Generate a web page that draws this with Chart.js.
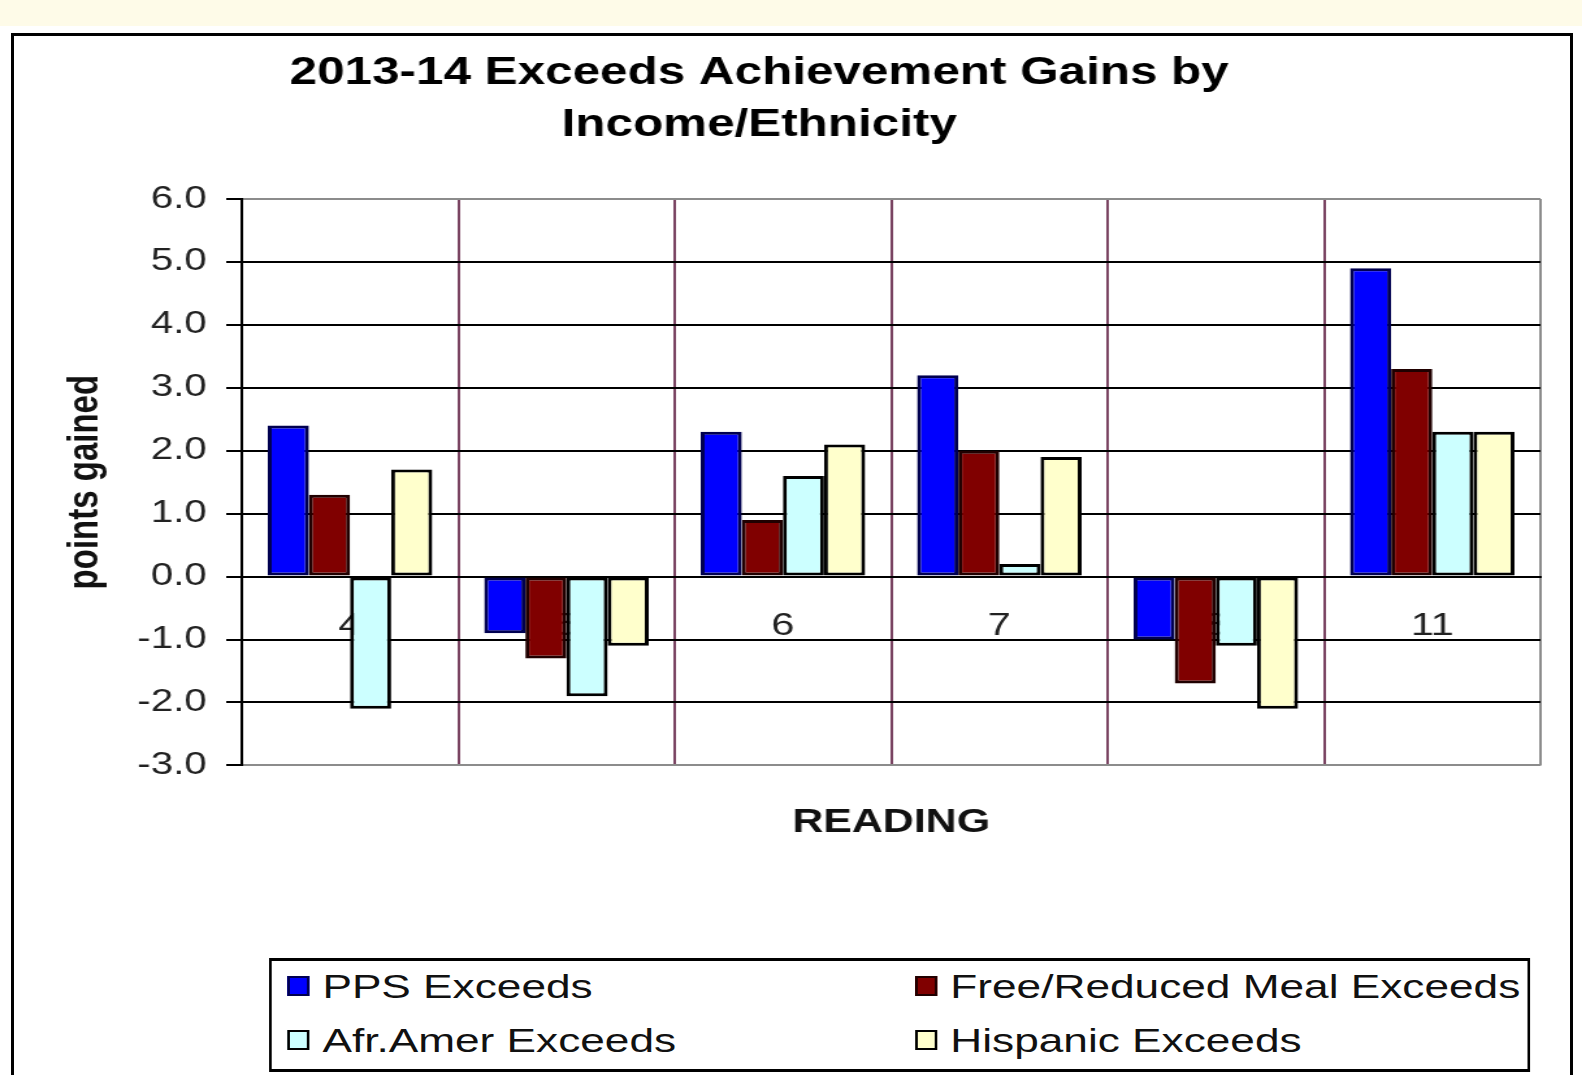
<!DOCTYPE html>
<html>
<head>
<meta charset="utf-8">
<title>2013-14 Exceeds Achievement Gains by Income/Ethnicity</title>
<script src="https://cdn.jsdelivr.net/npm/chart.js@4.4.1/dist/chart.umd.min.js"></script>
<style>
  html, body { margin: 0; padding: 0; background: #fff; overflow: hidden; }
  body { width: 1582px; height: 1075px; position: relative; font-family: 'Liberation Sans', Arial, sans-serif; }
  #topStrip { position: absolute; left: 0; top: 0; width: 1582px; height: 26px; background: #fefbe8; }
  #frame { position: absolute; left: 11px; top: 33px; width: 1562px; height: 1100px; box-sizing: border-box; border: 3px solid #000; border-bottom: none; }
  /* the original picture is stretched sideways, so the chart is drawn narrower and widened */
  #stage { position: absolute; left: 0; top: 0; width: 1217px; height: 1075px; transform: scaleX(1.3); transform-origin: 0 0; }
  #chart { position: absolute; left: -17px; top: 0; }
  #legend { position: absolute; left: 207px; top: 958px; width: 970px; height: 114px; box-sizing: border-box; border: 3px solid #000; border-left-width: 2px; border-right-width: 2px; background: #fff; }
  .item { position: absolute; display: flex; align-items: center; height: 40px; font-size: 34px; color: #111; white-space: nowrap; }
  .swatch { width: 13px; height: 16px; border: 2px solid #000; margin-right: 10px; }
</style>
</head>
<body>
<div id="topStrip"></div>
<div id="frame"></div>
<div id="stage">
  <canvas id="chart" width="1234" height="880"></canvas>
  <div id="legend"></div>
</div>

<script>
// values
const grades = ['4', '5', '6', '7', '8', '11'];
const ppsExceeds = [2.4, -0.9, 2.3, 3.2, -1.0, 4.9];
const freeReducedExceeds = [1.3, -1.3, 0.9, 2.0, -1.7, 3.3];
const afrAmerExceeds = [-2.1, -1.9, 1.6, 0.2, -1.1, 2.3];
const hispanicExceeds = [1.7, -1.1, 2.1, 1.9, -2.1, 2.3];
const yTickValues = [-3, -2, -1, 0, 1, 2, 3, 4, 5, 6];

const seriesNames = ['PPS Exceeds', 'Free/Reduced Meal Exceeds', 'Afr.Amer Exceeds', 'Hispanic Exceeds'];
const seriesValues = [ppsExceeds, freeReducedExceeds, afrAmerExceeds, hispanicExceeds];
const seriesColors = ['#0000ff', '#800000', '#ccffff', '#ffffcc'];
const seriesBorders = ['#000050', '#200000', '#000000', '#000000'];

const fontFamily = "'Liberation Sans', Arial, sans-serif";
Chart.defaults.font.family = fontFamily;

document.addEventListener('DOMContentLoaded', function() {
    const datasets = seriesNames.map(function(name, i) {
        return {
            label: name,
            data: seriesValues[i],
            backgroundColor: seriesColors[i],
            borderColor: seriesBorders[i],
            borderWidth: 3,
            borderSkipped: false,
            categoryPercentage: 0.76,
            barPercentage: 1
        };
    });

    new Chart(document.getElementById('chart'), {
        type: 'bar',
        data: { labels: grades, datasets: datasets },
        options: {
            responsive: false,
            animation: false,
            layout: { padding: { top: 33, bottom: 37, left: 0, right: 32 } },
            plugins: {
                legend: { display: false },
                tooltip: { enabled: false },
                title: {
                    display: true,
                    text: ['2013-14 Exceeds Achievement Gains by', 'Income/Ethnicity'],
                    color: '#000',
                    font: { size: 38, weight: 'bold', lineHeight: 1.368 },
                    padding: { top: 15, bottom: 47 }
                }
            },
            scales: {
                x: {
                    type: 'category',
                    position: { y: 0 },
                    grid: {
                        offset: true,
                        drawTicks: false,
                        lineWidth: 2,
                        color: function(c) {
                            if (c.index === undefined) return '#8c8c8c';
                            return c.index === 0 ? '#000' : '#7a4462';
                        }
                    },
                    border: { color: '#000', width: 2 },
                    ticks: { color: '#222', font: { size: 32 }, padding: 30 }
                },
                xTitle: {
                    type: 'category',
                    position: 'bottom',
                    labels: grades,
                    grid: { display: false },
                    border: { display: false },
                    ticks: { display: false },
                    title: {
                        display: true,
                        text: 'READING',
                        color: '#111',
                        font: { size: 33, weight: 'bold' },
                        padding: { top: 30, bottom: 0 }
                    }
                },
                y: {
                    min: -3,
                    max: 6,
                    afterBuildTicks: function(s) {
                        s.ticks = yTickValues.map(function(v) { return { value: v }; });
                    },
                    afterFit: function(s) { s.width = 203; },
                    grid: {
                        lineWidth: 2,
                        tickLength: 12,
                        tickColor: '#000',
                        color: function(c) {
                            if (c.tick && (c.tick.value === 6 || c.tick.value === -3)) return '#8c8c8c';
                            return '#000';
                        }
                    },
                    border: { color: '#000', width: 2 },
                    ticks: {
                        color: '#222',
                        font: { size: 31 },
                        padding: 15,
                        callback: function(v) { return Number(v).toFixed(1); }
                    },
                    title: {
                        display: true,
                        text: 'points gained',
                        color: '#111',
                        font: { size: 33, weight: 'bold' },
                        padding: { top: 63, bottom: 0 }
                    }
                }
            }
        }
    });

    // legend box, two columns like the original
    const legend = document.getElementById('legend');
    const cols = [12, 495];
    const rows = [5, 59];
    seriesNames.forEach(function(name, i) {
        const item = document.createElement('div');
        item.className = 'item';
        item.style.left = cols[i % 2] + 'px';
        item.style.top = rows[Math.floor(i / 2)] + 'px';
        const sw = document.createElement('span');
        sw.className = 'swatch';
        sw.style.background = seriesColors[i];
        sw.style.borderColor = seriesBorders[i];
        item.appendChild(sw);
        item.appendChild(document.createTextNode(name));
        legend.appendChild(item);
    });
});
</script>
</body>
</html>
